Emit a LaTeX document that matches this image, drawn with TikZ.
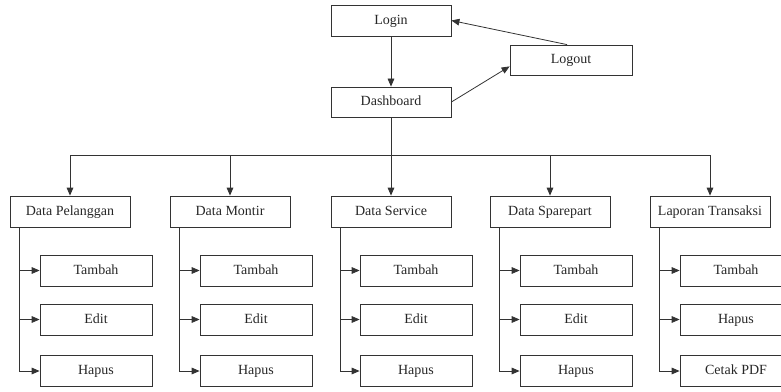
\documentclass[tikz,border=0pt]{standalone}
\usepackage{fontspec}
\setmainfont{Liberation Serif}
\usetikzlibrary{arrows.meta}
\definecolor{line}{HTML}{333333}
\tikzset{
  box/.style={shape=rectangle, draw=line, semithick, text=black!85,
    font=\fontsize{10.5}{12}\selectfont, text height=1.6ex, text depth=0.4ex,
    minimum width=120*0.75pt, minimum height=31*0.75pt, inner sep=0pt},
  sub/.style={box, minimum width=112*0.75pt},
  arr/.style={draw=line, semithick, -{Triangle[length=6pt,width=5pt]}}
}

\begin{document}
\begin{tikzpicture}[x=0.75pt, y=-0.75pt]
    \clip (0,0) rectangle (781,392);

    \node at (391, 20.5) (login) [box] {Login};
    \node at (571, 60) (logout) [box, minimum width=122*0.75pt, minimum height=30*0.75pt] {Logout};
    \node at (391, 102) (dash) [box, minimum height=30*0.75pt] {Dashboard};
    \coordinate (bus) at (391, 155);

    % menu utama
    \node at (70, 211.5) (pel) [box] {Data Pelanggan};
    \node at (230, 211.5) (mon) [box] {Data Montir};
    \node at (391, 211.5) (ser) [box] {Data Service};
    \node at (550, 211.5) (spa) [box] {Data Sparepart};
    \node at (710, 211.5) (lap) [box] {Laporan Transaksi};

    % sub menu
    \node at (96, 270.5) (pelT) [sub] {Tambah};
    \node at (96, 319.5) (pelE) [sub] {Edit};
    \node at (96, 371) (pelH) [sub] {Hapus};

    \node at (256, 270.5) (monT) [sub] {Tambah};
    \node at (256, 319.5) (monE) [sub] {Edit};
    \node at (256, 371) (monH) [sub] {Hapus};

    \node at (416, 270.5) (serT) [sub] {Tambah};
    \node at (416, 319.5) (serE) [sub] {Edit};
    \node at (416, 371) (serH) [sub] {Hapus};

    \node at (576, 270.5) (spaT) [sub] {Tambah};
    \node at (576, 319.5) (spaE) [sub] {Edit};
    \node at (576, 371) (spaH) [sub] {Hapus};

    \node at (736, 270.5) (lapT) [sub] {Tambah};
    \node at (736, 319.5) (lapH) [sub] {Hapus};
    \node at (736, 371) (lapC) [sub] {Cetak PDF};

    \draw[arr] (login) -- (dash);
    \draw[arr] (dash.east) -- ([yshift=6.75pt]logout.south west);
    \draw[arr] ([xshift=-3pt]logout.north) -- (login.east);

    \draw[draw=line, semithick] (dash) -- (bus);
    \draw[arr] (bus) -| (pel.north);
    \draw[arr] (bus) -| (mon.north);
    \draw[arr] (bus) -- (ser.north);
    \draw[arr] (bus) -| (spa.north);
    \draw[arr] (bus) -| (lap.north);

    \draw[arr] ([xshift=7.5pt]pel.south west) |- (pelT.west);
    \draw[arr] ([xshift=7.5pt]pel.south west) |- (pelE.west);
    \draw[arr] ([xshift=7.5pt]pel.south west) |- (pelH.west);
    \draw[arr] ([xshift=7.5pt]mon.south west) |- (monT.west);
    \draw[arr] ([xshift=7.5pt]mon.south west) |- (monE.west);
    \draw[arr] ([xshift=7.5pt]mon.south west) |- (monH.west);
    \draw[arr] ([xshift=7.5pt]ser.south west) |- (serT.west);
    \draw[arr] ([xshift=7.5pt]ser.south west) |- (serE.west);
    \draw[arr] ([xshift=7.5pt]ser.south west) |- (serH.west);
    \draw[arr] ([xshift=7.5pt]spa.south west) |- (spaT.west);
    \draw[arr] ([xshift=7.5pt]spa.south west) |- (spaE.west);
    \draw[arr] ([xshift=7.5pt]spa.south west) |- (spaH.west);
    \draw[arr] ([xshift=7.5pt]lap.south west) |- (lapT.west);
    \draw[arr] ([xshift=7.5pt]lap.south west) |- (lapH.west);
    \draw[arr] ([xshift=7.5pt]lap.south west) |- (lapC.west);
\end{tikzpicture}
\end{document}
